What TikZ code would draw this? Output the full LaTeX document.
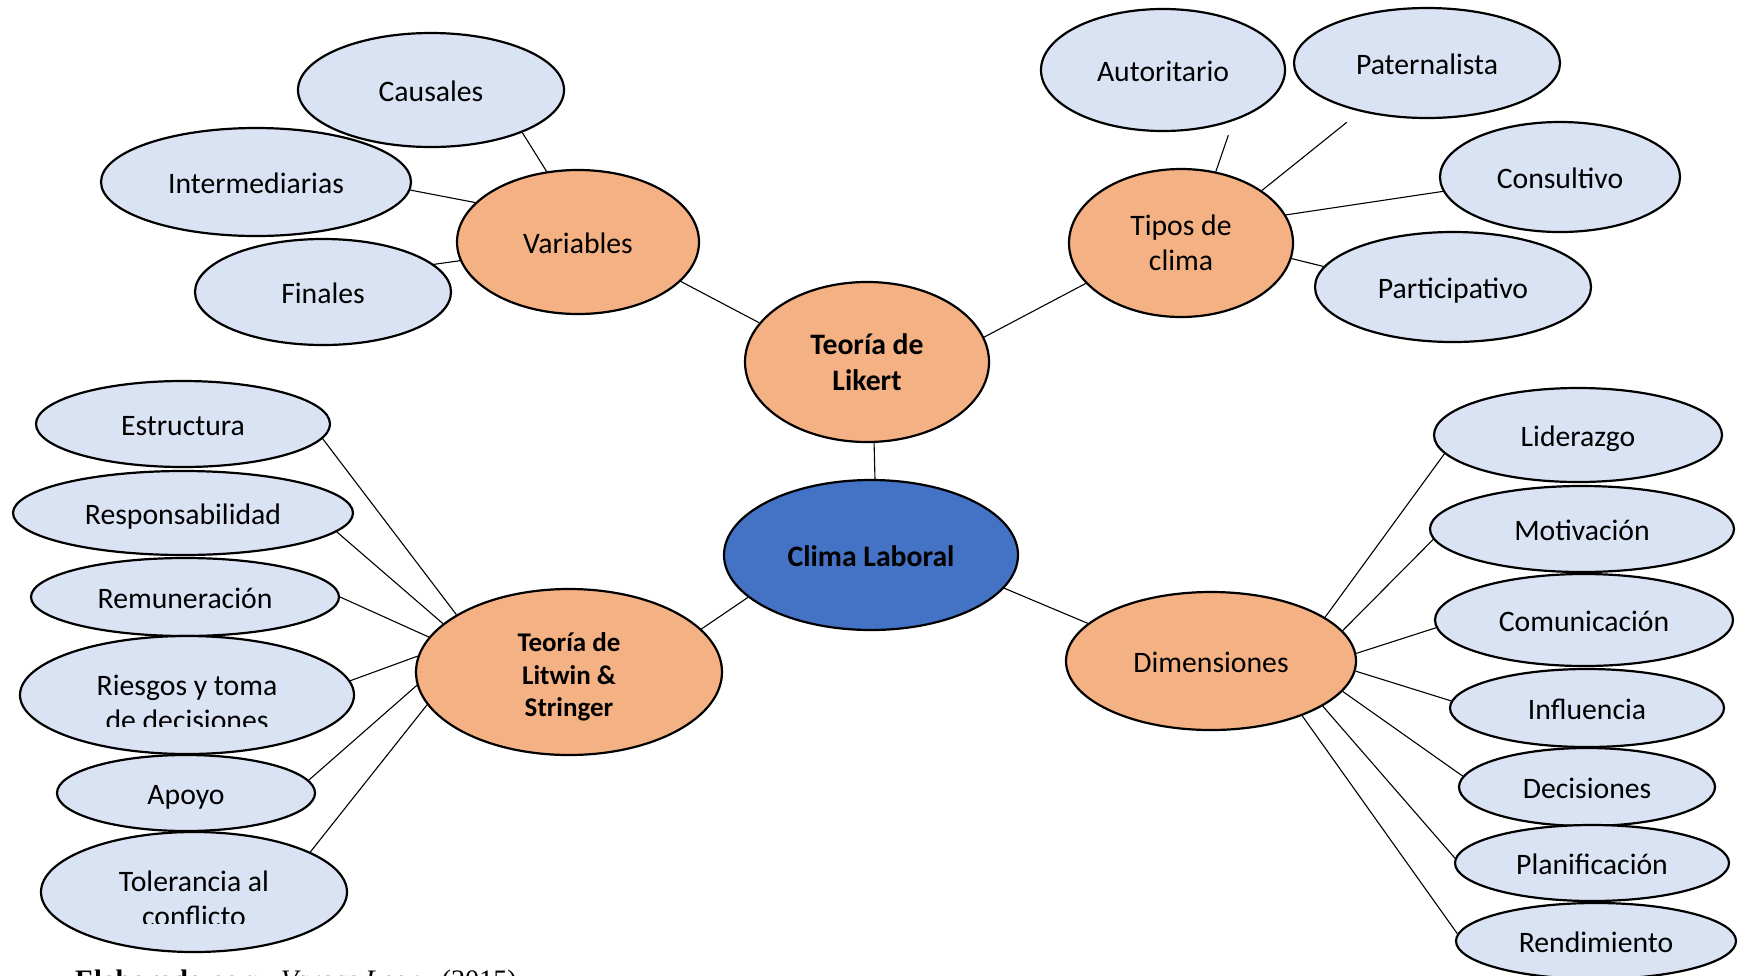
\documentclass[tikz,border=0pt]{standalone}
\usepackage{fontspec}
\setmainfont{Carlito}
\newfontfamily\capfont{Liberation Serif}
\usetikzlibrary{shapes.geometric}
\definecolor{orangeF}{HTML}{F4B183}
\definecolor{lightB}{HTML}{DAE3F3}
\definecolor{midB}{HTML}{4472C4}
\begin{document}
\begin{tikzpicture}[x=1pt,y=-1pt,
  base/.style={ellipse, draw=black, line width=2.2pt, inner sep=0pt, align=center,
    font=\fontsize{29.7}{35.5}\selectfont},
  one/.style={text height=25pt, text depth=2pt},
  sz/.style 2 args={minimum width=#1pt, minimum height=#2pt},
  mainE/.style={base, fill=orangeF},
  subE/.style={base, one, fill=lightB},
  txt/.style={inner sep=0pt, align=center, font=\fontsize{29.7}{35.5}\selectfont},
  link/.style={line width=1.1pt, draw=black}
]
\useasboundingbox (0,0) rectangle (1739,975);
\clip (0,0) rectangle (1739,975);

% central and main nodes
\node[mainE, sz={244}{160}, font=\bfseries\fontsize{29.7}{35.5}\selectfont] (likert) at (867,362) {Teoría de\\Likert};
\node[base, one, fill=midB, sz={294}{150}, font=\bfseries\fontsize{29.7}{35.5}\selectfont] (clima) at (871,555) {Clima Laboral};
\node[mainE, one, sz={242}{144}] (var) at (578,242) {Variables};
\node[mainE, sz={224}{148}] (tipos) at (1181,243) {Tipos de\\clima};
\node[mainE, sz={306}{166}] (litwin) at (569,672) {};
\node[txt, font=\bfseries\fontsize{27}{32.7}\selectfont] (litwintxt) at (569,677) {Teoría de\\Litwin \&\\Stringer};
\node[mainE, one, sz={290}{138}] (dim) at (1211,661) {Dimensiones};

% Variables
\node[subE, sz={266}{114}] (caus) at (431,90) {Causales};
\node[subE, sz={310}{108}] (inter) at (256,182) {Intermediarias};
\node[subE, sz={256}{106}] (fin) at (323,292) {Finales};

% Tipos de clima
\node[subE, sz={244}{122}] (auto) at (1163,70) {Autoritario};
\node[subE, sz={266}{110}] (pat) at (1427,63) {Paternalista};
\node[subE, sz={240}{110}] (cons) at (1560,177) {Consultivo};
\node[subE, sz={276}{110}] (part) at (1453,287) {Participativo};

% Litwin & Stringer
\node[subE, sz={294}{86}] (estr) at (183,424) {Estructura};
\node[subE, sz={340}{84}] (resp) at (183,513) {Responsabilidad};
\node[subE, sz={308}{78}] (rem) at (185,597) {Remuneración};
\node[subE, sz={334}{118}] (ries) at (187,695) {};
\begin{scope}
  \clip (0,0) rectangle (1739,726);
  \node[txt] (riestxt) at (187,703) {Riesgos y toma\\de decisiones};
\end{scope}
\node[subE, sz={258}{76}] (apo) at (186,793) {Apoyo};
\node[subE, sz={306}{120}] (tol) at (194,892) {};
\begin{scope}
  \clip (0,0) rectangle (1739,923);
  \node[txt] (toltxt) at (194,899) {Tolerancia al\\conflicto};
\end{scope}

% Dimensiones
\node[subE, sz={288}{94}] (lid) at (1578,435) {Liderazgo};
\node[subE, sz={304}{86}] (mot) at (1582,529) {Motivación};
\node[subE, sz={298}{92}] (com) at (1584,620) {Comunicación};
\node[subE, sz={274}{78}] (inf) at (1587,708) {Influencia};
\node[subE, sz={256}{78}] (dec) at (1587,787) {Decisiones};
\node[subE, sz={274}{76}] (plan) at (1592,863) {Planificación};
\node[subE, sz={280}{76}] (rend) at (1596,941) {Rendimiento};

% connectors
\draw[link] (caus.-25) -- (var.114);
\draw[link] (inter.-3) -- (var.159.5);
\draw[link] (fin.14) -- (var.189);
\draw[link] (var.-21) -- (likert.160);
\draw[link] (likert.12) -- (tipos.203);
\draw[link, shorten <=15pt] (auto.-36) -- (tipos.64);
\draw[link, shorten <=17pt] (pat.216) -- (tipos.33);
\draw[link] (cons.187.5) -- (tipos.15);
\draw[link] (part.171) -- (tipos.-8);
\draw[link] (likert.-85) -- (clima.87);
\draw[link] (clima.199) -- (litwin.18);
\draw[link] (clima.-14) -- (dim.163);

\draw[link] (estr.-6) -- (litwin.153);
\draw[link] (resp.-7) -- (litwin.159);
\draw[link] (rem.0) -- (litwin.166);
\draw[link] (ries.5) -- (litwin.174);
\draw[link] (apo.6) -- (litwin.185);
\draw[link] (tol.19) -- (litwin.193);

\draw[link] (lid.188) -- (dim.21);
\draw[link] (mot.184) -- (dim.13);
\draw[link] (com.183) -- (dim.3.5);
\draw[link] (inf.177) -- (dim.-4);
\draw[link] (dec.175) -- (dim.-13.5);
\draw[link] (plan.178) -- (dim.-22);
\draw[link] (rend.177) -- (dim.-31);

% caption (cut by the page edge as in the reference)
\node[anchor=base west, inner sep=0pt, font=\capfont\fontsize{28.2}{30}\selectfont] (cap) at (75,989)
  {\textbf{Elaborado por:}\hspace{20pt}\textit{Vargas Leon}\hspace{20pt}(2015)};
\end{tikzpicture}
\end{document}
